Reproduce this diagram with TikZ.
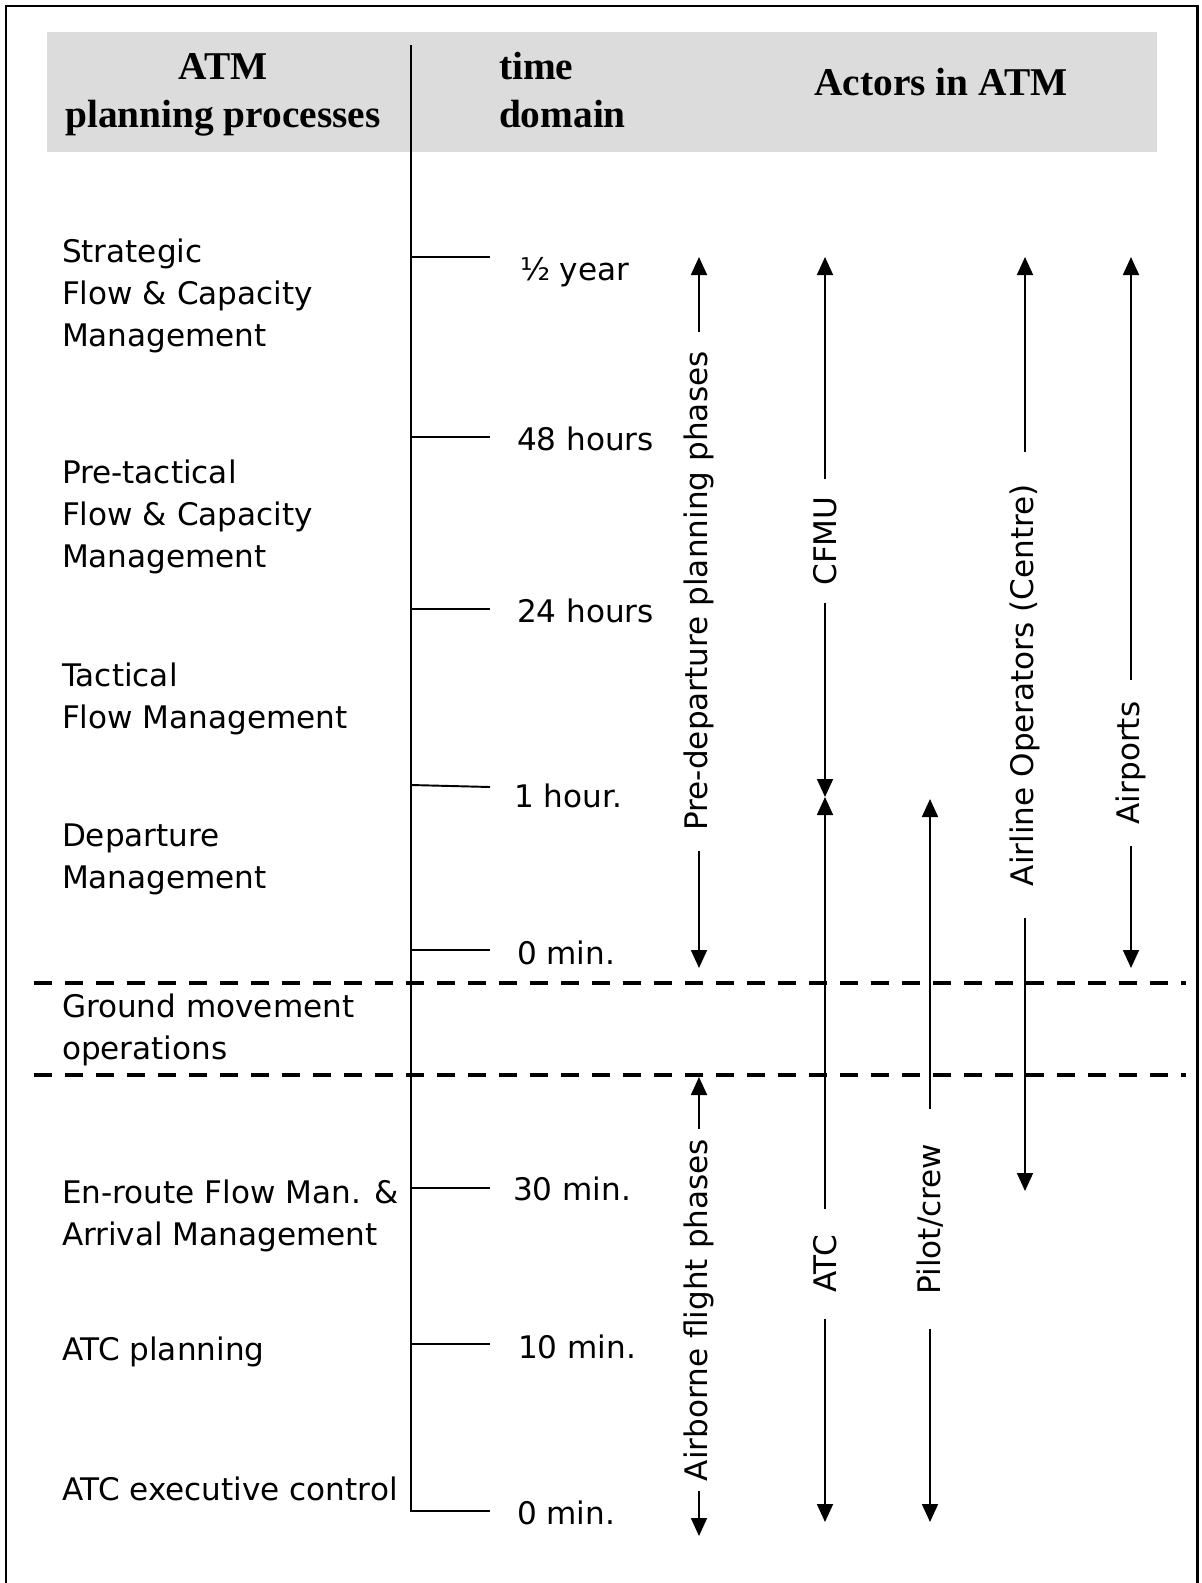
\documentclass[tikz,border=0pt]{standalone}
\usepackage{fontspec}
\setmainfont{Liberation Serif}
\setsansfont{DejaVu Sans}
\usetikzlibrary{arrows.meta}

\definecolor{headgray}{RGB}{220,220,220}

\begin{document}
\begin{tikzpicture}[
    x=0.02cm, y=-0.02cm,
    every node/.style={inner sep=0pt, outer sep=0pt},
    head/.style={font=\fontsize{22.4}{27.3}\selectfont\bfseries, align=center},
    process/.style={font=\sffamily\fontsize{17.7}{23.9}\selectfont,
        align=left, anchor=base west},
    timelbl/.style={font=\sffamily\fontsize{17.7}{23.9}\selectfont, anchor=base west},
    actor/.style={font=\sffamily\fontsize{17.7}{23.9}\selectfont,
        rotate=90, inner xsep=#1},
    actor/.default=4mm,
    tickline/.style={line width=1.1pt},
    phase/.style={line width=1pt, -{Triangle[length=3.6mm, width=3.2mm]}},
    sepline/.style={line width=2.7pt, dash pattern=on 3.6mm off 2.6mm},
]
\useasboundingbox (0,0) rectangle (1201,1583);

% ---- frame and header band ----
\draw[line width=1.7pt] (6,1583) -- (6,6) -- (1197,6) -- (1197,1583);
\fill[headgray] (47,32) rectangle (1157,152);

% multi-line nodes sit on the baseline of their last line
\node (hatm)    [head, anchor=base]                  at (223,127) {ATM\\planning processes};
\node (htime)   [head, align=left, anchor=base west] at (499,127) {time\\domain};
\node (hactors) [head, anchor=base]                  at (941,95)  {Actors in ATM};

% ---- time axis ----
\coordinate (axtop) at (411,45);
\coordinate (tk1) at (411,257);
\coordinate (tk2) at (411,437);
\coordinate (tk3) at (411,609);
\coordinate (tk4) at (411,785);
\coordinate (tk5) at (411,950);
\coordinate (tk6) at (411,1188);
\coordinate (tk7) at (411,1344);
\coordinate (tk8) at (411,1511);

\draw[tickline] (axtop) -- (tk8) -- +(79,0);
\draw[tickline] (tk1) -- +(79,0);
\draw[tickline] (tk2) -- +(79,0);
\draw[tickline] (tk3) -- +(79,0);
\draw[tickline] (tk4) -- +(79,2);
\draw[tickline] (tk5) -- +(79,0);
\draw[tickline] (tk6) -- +(79,0);
\draw[tickline] (tk7) -- +(79,0);

\node (tyear) [timelbl] at (520,280)  {½ year};
\node (t48h)  [timelbl] at (517,450)  {48 hours};
\node (t24h)  [timelbl] at (517,622)  {24 hours};
\node (t1h)   [timelbl] at (514,807)  {1 hour.};
\node (t0a)   [timelbl] at (517,964)  {0 min.};
\node (t30m)  [timelbl] at (513,1200) {30 min.};
\node (t10m)  [timelbl] at (518,1358) {10 min.};
\node (t0b)   [timelbl] at (517,1524) {0 min.};

% ---- planning processes ----
\node (strat)   [process] at (62,346)  {Strategic\\Flow \& Capacity\\Management};
\node (pretac)  [process] at (62,567)  {Pre-tactical\\Flow \& Capacity\\Management};
\node (tactic)  [process] at (62,728)  {Tactical\\Flow Management};
\node (depart)  [process] at (62,888)  {Departure\\Management};
\node (ground)  [process] at (62,1059) {Ground movement\\operations};
\node (enroute) [process] at (62,1245) {En-route Flow Man. \&\\Arrival Management};
\node (atcplan) [process] at (62,1360) {ATC planning};
\node (atcexec) [process] at (62,1500) {ATC executive control};

% ---- phases and actors ----
\coordinate (pdtop)  at (699,257);  \coordinate (pdbot)  at (699,968);
\coordinate (abtop)  at (699,1077); \coordinate (abbot)  at (699,1536);
\coordinate (cftop)  at (825,257);  \coordinate (cfbot)  at (825,797);
\coordinate (atctop) at (825,797);  \coordinate (atcbot) at (825,1522);
\coordinate (pctop)  at (930,799);  \coordinate (pcbot)  at (930,1522);
\coordinate (aotop)  at (1025,257); \coordinate (aobot)  at (1025,1191);
\coordinate (aptop)  at (1131,257); \coordinate (apbot)  at (1131,968);

\node (pdlab)  [actor=4mm]   at (699,591)  {Pre-departure planning phases};
\node (ablab)  [actor=2mm]   at (699,1310) {Airborne flight phases};
\node (cflab)  [actor=3.4mm] at (825,541)  {CFMU};
\node (atclab) [actor=5.2mm] at (825,1264) {ATC};
\node (pclab)  [actor=7mm]   at (930,1219) {Pilot/crew};
\node (aolab)  [actor=6.4mm] at (1025,685) {Airline Operators (Centre)};
\node (aplab)  [actor=4.4mm] at (1131,763) {Airports};

\draw[phase] (pdlab)  -- (pdtop);
\draw[phase] (pdlab)  -- (pdbot);
\draw[phase] (ablab)  -- (abtop);
\draw[phase] (ablab)  -- (abbot);
\draw[phase] (cflab)  -- (cftop);
\draw[phase] (cflab)  -- (cfbot);
\draw[phase] (atclab) -- (atctop);
\draw[phase] (atclab) -- (atcbot);
\draw[phase] (pclab)  -- (pctop);
\draw[phase] (pclab)  -- (pcbot);
\draw[phase] (aolab)  -- (aotop);
\draw[phase] (aolab)  -- (aobot);
\draw[phase] (aplab)  -- (aptop);
\draw[phase] (aplab)  -- (apbot);

% ---- ground movement band ----
\coordinate (sep1w) at (34,983);  \coordinate (sep1e) at (1186,983);
\coordinate (sep2w) at (34,1075); \coordinate (sep2e) at (1186,1075);
\draw[sepline] (sep1w) -- (sep1e);
\draw[sepline] (sep2w) -- (sep2e);

\end{tikzpicture}
\end{document}
